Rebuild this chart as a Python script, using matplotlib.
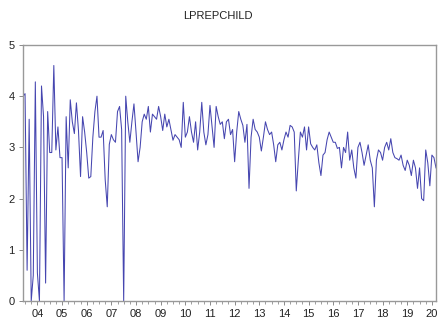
import matplotlib
matplotlib.use("Agg")
import matplotlib.pyplot as plt
import numpy as np

start_year = 2003
start_month = 6  # June 2003, monthly observations

values = [
    4.0, 4.05, 0.6, 3.55, 0.0, 0.5, 4.28, 0.55, 0.0, 4.2,
    3.6, 0.35, 3.7, 2.9, 2.9, 4.6, 2.95, 3.4, 2.8, 2.8,
    0.0, 3.6, 2.6, 3.93, 3.5, 3.27, 3.87, 3.33, 2.43, 3.6,
    3.3, 2.9, 2.4, 2.43, 3.2, 3.7, 4.0, 3.2, 3.2, 3.33,
    2.37, 1.84, 3.06, 3.25, 3.15, 3.1, 3.7, 3.8, 3.35, 0.0,
    4.0, 3.5, 3.1, 3.5, 3.85, 3.3, 2.72, 3.0, 3.5, 3.65,
    3.55, 3.8, 3.3, 3.65, 3.6, 3.55, 3.8, 3.6, 3.33, 3.65,
    3.4, 3.55, 3.35, 3.14, 3.25, 3.2, 3.15, 3.0, 3.88, 3.2,
    3.3, 3.6, 3.3, 3.1, 3.5, 2.95, 3.3, 3.88, 3.3, 3.05,
    3.25, 3.82, 3.4, 3.0, 3.8, 3.6, 3.45, 3.5, 3.17, 3.5,
    3.55, 3.25, 3.35, 2.72, 3.3, 3.7, 3.55, 3.43, 3.1, 3.45,
    2.2, 3.2, 3.55, 3.35, 3.3, 3.2, 2.93, 3.2, 3.5, 3.35,
    3.25, 3.3, 3.05, 2.72, 3.05, 3.1, 2.95, 3.15, 3.3, 3.2,
    3.43, 3.4, 3.3, 2.15, 2.75, 3.3, 3.2, 3.4, 2.95, 3.4,
    3.07, 3.0, 2.95, 3.05, 2.7, 2.45, 2.85, 2.9, 3.15, 3.3,
    3.2, 3.1, 3.1, 2.98, 3.0, 2.6, 3.0, 2.9, 3.3, 2.75,
    2.95, 2.6, 2.4, 3.0, 3.1, 2.9, 2.65, 2.85, 3.05, 2.75,
    2.6, 1.84, 2.75, 2.95, 2.9, 2.75, 3.0, 3.1, 2.95, 3.17,
    2.9, 2.8, 2.78, 2.75, 2.85, 2.65, 2.55, 2.75, 2.65, 2.45,
    2.75, 2.6, 2.2, 2.6, 2.0, 1.96, 2.95, 2.7, 2.25, 2.85,
    2.8, 2.6,
]

title = "LPREPCHILD"
year_labels = ["04", "05", "06", "07", "08", "09", "10", "11", "12",
               "13", "14", "15", "16", "17", "18", "19", "20"]
y_ticks = [0, 1, 2, 3, 4, 5]

t = start_year + (start_month - 1) / 12 + np.arange(len(values)) / 12

fig = plt.figure(figsize=(4.39, 3.27), dpi=100)
ax = fig.add_axes([23 / 439, 1 - 301 / 327, (436 - 23) / 439, (301 - 45) / 327])
ax.plot(t, values, color="#4646b0", linewidth=0.75)

ax.set_xlim(t[0], t[-1])
ax.set_ylim(0, 5)
ax.set_yticks(y_ticks)
ax.set_yticklabels([str(v) for v in y_ticks])

year_pos = [2004 + k for k in range(len(year_labels))]
ax.set_xticks(year_pos)
ax.set_xticklabels(year_labels)
minor = [y + q / 4 for y in range(2003, 2021) for q in range(4)]
minor = [m for m in minor if t[0] <= m <= t[-1]]
ax.set_xticks(minor, minor=True)

font = "Liberation Sans"
for lab in ax.get_xticklabels() + ax.get_yticklabels():
    lab.set_fontfamily(font)
    lab.set_fontsize(8)
    lab.set_color("#222222")

ax.tick_params(axis="x", which="major", direction="out", length=3, width=0.6,
               color="#777777", pad=3)
ax.tick_params(axis="x", which="minor", direction="out", length=2, width=0.5,
               color="#777777")
ax.tick_params(axis="y", direction="out", length=3, width=0.6, color="#777777", pad=3)

for s in ax.spines.values():
    s.set_color("#999999")
    s.set_linewidth(1.0)

fig.text(218 / 439, 1 - 16 / 327, title, ha="center", va="center",
         fontfamily=font, fontsize=8, color="#222222")

fig.savefig("out.png", dpi=100)
